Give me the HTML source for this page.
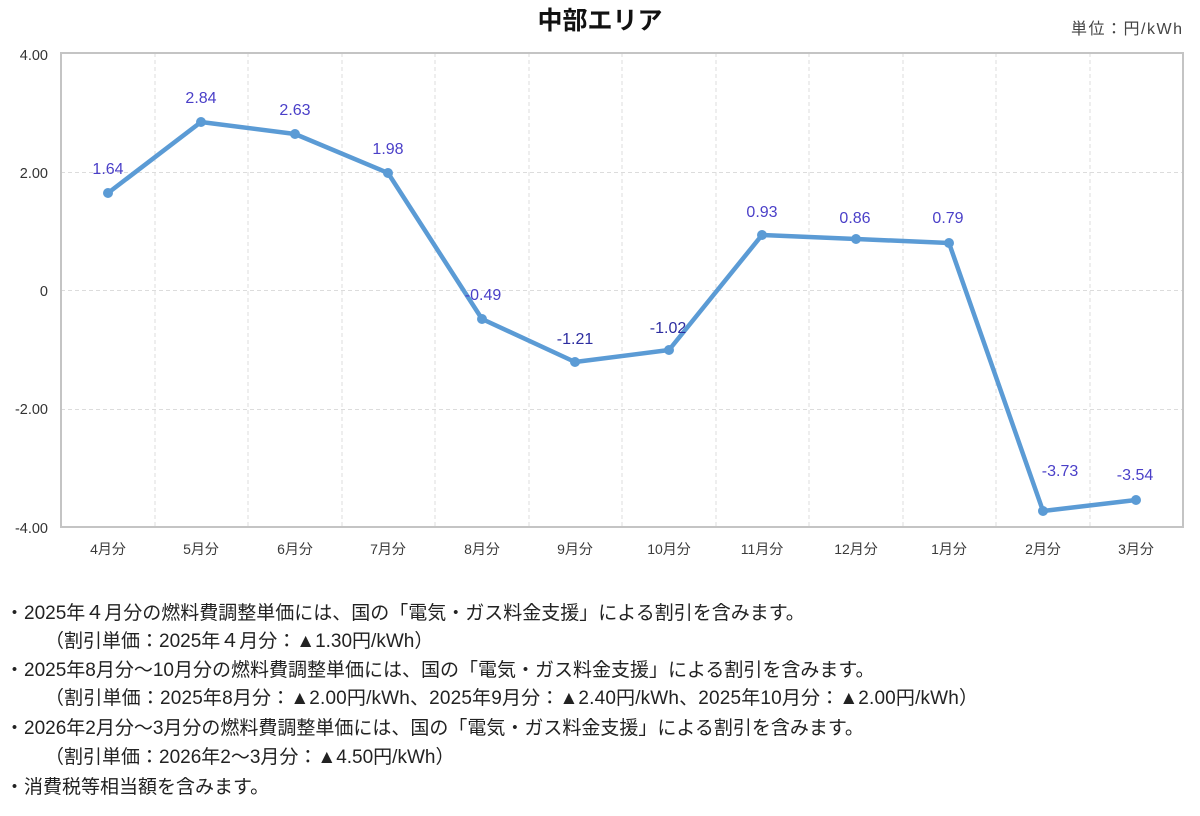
<!DOCTYPE html>
<html><head><meta charset="utf-8">
<style>
html,body{margin:0;padding:0;background:#fff;width:1200px;height:816px;overflow:hidden;}
svg{display:block;}
text{font-family:"Liberation Sans","Noto Sans CJK JP",sans-serif;}
</style></head>
<body>
<svg width="1200" height="816" viewBox="0 0 1200 816" xmlns="http://www.w3.org/2000/svg">
<rect width="1200" height="816" fill="#fff"/>
<!-- title -->
<text x="600" y="29" text-anchor="middle" font-size="25" font-weight="bold" fill="#111">中部エリア</text>
<text x="1182" y="34" text-anchor="end" font-size="16" fill="#444" textLength="111" lengthAdjust="spacing">単位：円/kWh</text>

<!-- grid -->
<g stroke="#dcdcdc" stroke-width="1" stroke-dasharray="4,3" fill="none">
<line x1="61" y1="172.5" x2="1183" y2="172.5"/>
<line x1="61" y1="290.5" x2="1183" y2="290.5"/>
<line x1="61" y1="409.5" x2="1183" y2="409.5"/>
<line x1="155" y1="53" x2="155" y2="527"/>
<line x1="248" y1="53" x2="248" y2="527"/>
<line x1="342" y1="53" x2="342" y2="527"/>
<line x1="435" y1="53" x2="435" y2="527"/>
<line x1="529" y1="53" x2="529" y2="527"/>
<line x1="622" y1="53" x2="622" y2="527"/>
<line x1="716" y1="53" x2="716" y2="527"/>
<line x1="809" y1="53" x2="809" y2="527"/>
<line x1="903" y1="53" x2="903" y2="527"/>
<line x1="996" y1="53" x2="996" y2="527"/>
<line x1="1090" y1="53" x2="1090" y2="527"/>
</g>
<rect x="61" y="53" width="1122" height="474" fill="none" stroke="#c4c4c4" stroke-width="2"/>

<!-- y labels -->
<g font-size="14.5" fill="#333" text-anchor="end">
<text x="48" y="60">4.00</text>
<text x="48" y="178">2.00</text>
<text x="48" y="296">0</text>
<text x="48" y="414">-2.00</text>
<text x="48" y="533">-4.00</text>
</g>

<!-- x labels -->
<g font-size="14" fill="#3a3a3a" text-anchor="middle">
<text x="108" y="554">4月分</text>
<text x="201" y="554">5月分</text>
<text x="295" y="554">6月分</text>
<text x="388" y="554">7月分</text>
<text x="482" y="554">8月分</text>
<text x="575" y="554">9月分</text>
<text x="669" y="554">10月分</text>
<text x="762" y="554">11月分</text>
<text x="856" y="554">12月分</text>
<text x="949" y="554">1月分</text>
<text x="1043" y="554">2月分</text>
<text x="1136" y="554">3月分</text>
</g>

<!-- series -->
<polyline fill="none" stroke="#5b9bd5" stroke-width="4.5" stroke-linejoin="round"
points="108,193 201,122 295,134 388,173 482,319 575,362 669,350 762,235 856,239 949,243 1043,511 1136,500"/>
<g fill="#5b9bd5">
<circle cx="108" cy="193" r="5"/>
<circle cx="201" cy="122" r="5"/>
<circle cx="295" cy="134" r="5"/>
<circle cx="388" cy="173" r="5"/>
<circle cx="482" cy="319" r="5"/>
<circle cx="575" cy="362" r="5"/>
<circle cx="669" cy="350" r="5"/>
<circle cx="762" cy="235" r="5"/>
<circle cx="856" cy="239" r="5"/>
<circle cx="949" cy="243" r="5"/>
<circle cx="1043" cy="511" r="5"/>
<circle cx="1136" cy="500" r="5"/>
</g>

<!-- data labels -->
<g font-size="16" fill="#4a3fc8" text-anchor="middle">
<text x="108" y="174">1.64</text>
<text x="201" y="103">2.84</text>
<text x="295" y="115">2.63</text>
<text x="388" y="154">1.98</text>
<text x="483" y="300">-0.49</text>
<text x="575" y="344" fill="#2d2da0">-1.21</text>
<text x="668" y="333" fill="#2d2da0">-1.02</text>
<text x="762" y="217">0.93</text>
<text x="855" y="223">0.86</text>
<text x="948" y="223">0.79</text>
<text x="1060" y="476">-3.73</text>
<text x="1135" y="480">-3.54</text>
</g>

<!-- notes -->
<g font-size="19" fill="#222">
<text x="5" y="619">・2025年４月分の燃料費調整単価には、国の「電気・ガス料金支援」による割引を含みます。</text>
<text x="45" y="647">（割引単価：2025年４月分：▲1.30円/kWh）</text>
<text x="5" y="676">・2025年8月分～10月分の燃料費調整単価には、国の「電気・ガス料金支援」による割引を含みます。</text>
<text x="45" y="704" textLength="933" lengthAdjust="spacing">（割引単価：2025年8月分：▲2.00円/kWh、2025年9月分：▲2.40円/kWh、2025年10月分：▲2.00円/kWh）</text>
<text x="5" y="734">・2026年2月分～3月分の燃料費調整単価には、国の「電気・ガス料金支援」による割引を含みます。</text>
<text x="45" y="763">（割引単価：2026年2～3月分：▲4.50円/kWh）</text>
<text x="5" y="793">・消費税等相当額を含みます。</text>
</g>
</svg>
</body></html>
